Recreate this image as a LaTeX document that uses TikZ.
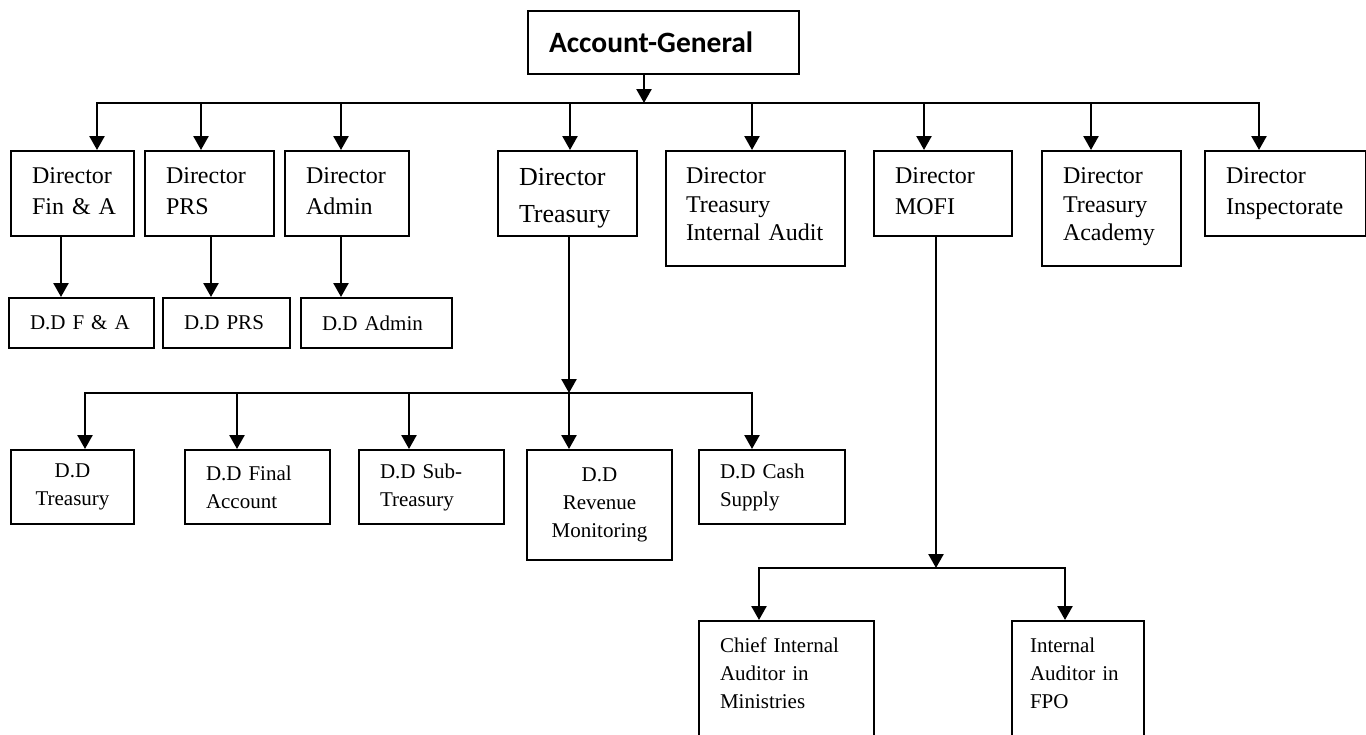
\documentclass[tikz,border=0pt]{standalone}
\usepackage{fontspec}
\setmainfont{Liberation Serif}
\newfontfamily\calibri{Carlito}
\usepackage{tikz}
\usetikzlibrary{arrows.meta}
\hyphenpenalty=10000
\exhyphenpenalty=10000

\tikzset{
  box/.style={draw, line width=2pt, anchor=north west, inner xsep=21pt, inner ysep=0pt, align=left},
  lvlone/.style={box, font=\fontsize{24}{31}\selectfont, minimum height=85pt, text depth=35pt},
  lvlonetall/.style={lvlone, font=\fontsize{24}{28.5}\selectfont, minimum height=115pt, text depth=65pt},
  lvltwo/.style={box, font=\fontsize{21}{26}\selectfont, minimum height=50pt},
  lvlthree/.style={box, font=\fontsize{21}{28}\selectfont, minimum height=74pt},
  lvlfour/.style={box, font=\fontsize{21}{28}\selectfont, inner ysep=17pt, text depth=100pt},
  link/.style={line width=2.5pt, line cap=rect},
  arr/.style={link, -{Triangle[width=15pt,length=14pt]}},
}

\begin{document}
\begin{tikzpicture}[x=1pt,y=-1pt]
  \useasboundingbox (0,0) rectangle (1366,734);
  \clip (0,0) rectangle (1366,734);

  % head
  \node[box, font=\calibri\bfseries\fontsize{29.5}{35}\selectfont, text width=229pt, minimum height=63pt] (ag) at (527,10) {Account-General};

  % directors
  \node[lvlone, text width=81pt] (dfa) at (10,150) {Director\\Fin~\&~A};
  \node[lvlone, text width=87pt] (dprs) at (144,150) {Director\\PRS};
  \node[lvlone, text width=82pt] (dadm) at (284,150) {Director\\Admin};
  \node[lvlone, text width=97pt, text height=26pt, text depth=43pt, font=\fontsize{26}{37}\selectfont] (dtre) at (497,150) {Director\\Treasury};
  \node[lvlonetall, text width=139pt, inner xsep=20pt] (dtia) at (665,150) {Director\\Treasury\\Internal~Audit};
  \node[lvlone, text width=96pt] (dmofi) at (873,150) {Director\\MOFI};
  \node[lvlonetall, text width=97pt] (dtac) at (1041,150) {Director\\Treasury\\Academy};
  \node[lvlone, text width=119pt] (dins) at (1204,150) {Director\\Inspectorate};

  % deputies
  \node[lvltwo, text width=103pt] (ddfa) at (8,297) {D.D F~\&~A};
  \node[lvltwo, text width=85pt] (ddprs) at (162,297) {D.D PRS};
  \node[lvltwo, text width=109pt] (ddadm) at (300,297) {D.D Admin};

  \node[lvlthree, text width=81pt, align=center] (ddt) at (10,449) {D.D\\Treasury};
  \node[lvlthree, text width=103pt] (ddfin) at (184,449) {D.D Final\\Account};
  \node[lvlthree, text width=103pt] (ddsub) at (358,449) {D.D Sub-\\Treasury};
  \node[lvlthree, text width=103pt, align=center, minimum height=110pt] (ddrev) at (526,449) {D.D\\Revenue\\Monitoring};
  \node[lvlthree, text width=104pt] (ddcash) at (698,449) {D.D Cash\\Supply};

  \node[lvlfour, text width=133pt] (cia) at (698,620) {Chief~Internal\\Auditor~in\\Ministries};
  \node[lvlfour, text width=96pt, inner xsep=18pt] (iaf) at (1011,620) {Internal\\Auditor~in\\FPO};

  % connectors
  \coordinate (agbus) at (644,103);
  \draw[arr] (ag.south -| agbus) -- (agbus);
  \foreach \t/\x in {dfa/97, dprs/201, dadm/341, dtre/570, dtia/752, dmofi/924, dtac/1091, dins/1259}{
    \coordinate (b\t) at (\x,103);
    \draw[arr] (b\t) -- (b\t |- \t.north);
  }
  \draw[link] (bdfa) -- (bdins);

  \foreach \t/\s/\x in {dfa/ddfa/61, dprs/ddprs/211, dadm/ddadm/341}
    \draw[arr] (\t.south -| \x,0) -- (\s.north -| \x,0);

  \coordinate (tbus) at (569,393);
  \draw[arr] (dtre.south -| tbus) -- (tbus);
  \foreach \s/\x in {ddt/85, ddfin/237, ddsub/409, ddrev/569, ddcash/752}{
    \coordinate (t\s) at (\x,393);
    \draw[arr] (t\s) -- (t\s |- \s.north);
  }
  \draw[link] (tddt) -- (tddcash);

  \coordinate (mbus) at (936,568);
  \draw[arr] (dmofi.south -| mbus) -- (mbus);
  \foreach \s/\x in {cia/759, iaf/1065}{
    \coordinate (m\s) at (\x,568);
    \draw[arr] (m\s) -- (m\s |- \s.north);
  }
  \draw[link] (mcia) -- (miaf);
\end{tikzpicture}
\end{document}
